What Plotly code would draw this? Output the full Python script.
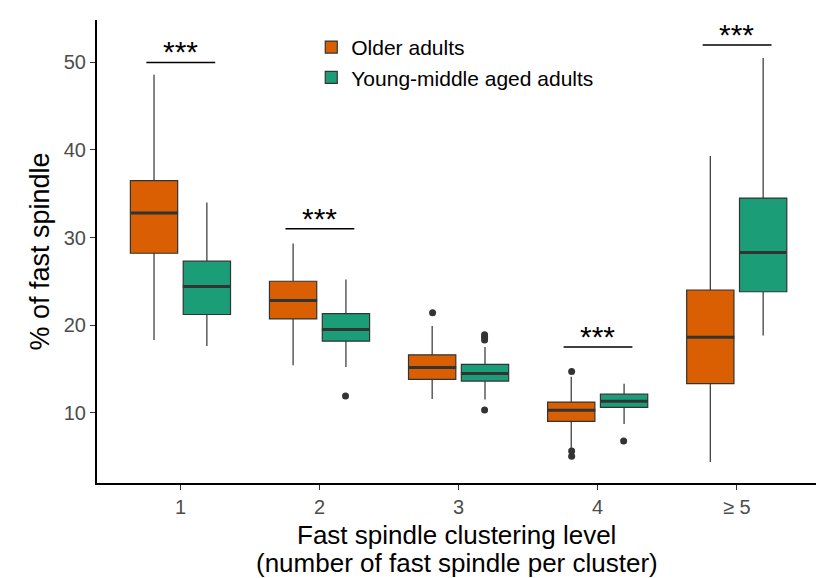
import plotly.graph_objects as go

categories = ["1", "2", "3", "4", "\u2265 5"]
cat_pos = [1, 2, 3, 4, 5]
groups = ["Older adults", "Young-middle aged adults"]
colors = ["#D95F02", "#1B9E77"]
x_title_lines = ["Fast spindle clustering level", "(number of fast spindle per cluster)"]

# Box statistics (lower whisker, Q1, median, Q3, upper whisker)
older_low = [18.3, 15.4, 11.55, 5.9, 4.35]
older_q1 = [28.2, 20.7, 13.8, 9.0, 13.3]
older_med = [32.8, 22.8, 15.15, 10.26, 18.6]
older_q3 = [36.5, 25.0, 16.6, 11.2, 24.0]
older_high = [48.6, 29.3, 19.9, 14.1, 39.3]

young_low = [17.6, 15.2, 11.5, 8.7, 18.8]
young_q1 = [21.2, 18.15, 13.6, 10.6, 23.8]
young_med = [24.4, 19.5, 14.45, 11.3, 28.3]
young_q3 = [27.3, 21.3, 15.5, 12.1, 34.5]
young_high = [34.0, 25.2, 17.5, 13.3, 50.5]

# Outliers (category index, value)
older_out_cat = [3, 4, 4, 4]
older_out_val = [21.4, 14.7, 5.6, 5.0]
young_out_cat = [2, 3, 3, 3, 3, 4]
young_out_val = [11.9, 18.9, 18.6, 18.3, 10.3, 6.75]

# Significance annotations
sig_cat = [1, 2, 4, 5]
sig_y = [50.0, 31.0, 17.5, 52.0]
sig_label = ["***", "***", "***", "***"]

dodge = 0.187
box_half = 0.17
edge = "#333333"

fig = go.Figure()

stats = [
    (older_low, older_q1, older_med, older_q3, older_high),
    (young_low, young_q1, young_med, young_q3, young_high),
]
for i, (lo, q1, md, q3, hi) in enumerate(stats):
    fig.add_trace(go.Box(
        name=groups[i], x=cat_pos, lowerfence=lo, q1=q1, median=md, q3=q3,
        upperfence=hi, fillcolor=colors[i], line=dict(color=edge, width=1.2),
        whiskerwidth=0, offsetgroup=str(i), boxpoints=False, opacity=1,
        hoverinfo="skip",
    ))

# thicker medians
for i, st in enumerate(stats):
    off = -dodge if i == 0 else dodge
    xs, ys = [], []
    for c, m in zip(cat_pos, st[2]):
        xs += [c + off - box_half, c + off + box_half, None]
        ys += [m, m, None]
    fig.add_trace(go.Scatter(x=xs, y=ys, mode="lines", line=dict(color=edge, width=3),
                             showlegend=False, hoverinfo="skip"))

# outliers
fig.add_trace(go.Scatter(x=[c - dodge for c in older_out_cat], y=older_out_val, mode="markers",
                         marker=dict(color=edge, size=7), showlegend=False, hoverinfo="skip"))
fig.add_trace(go.Scatter(x=[c + dodge for c in young_out_cat], y=young_out_val, mode="markers",
                         marker=dict(color=edge, size=7), showlegend=False, hoverinfo="skip"))

# significance bars
for c, yv, lab in zip(sig_cat, sig_y, sig_label):
    fig.add_shape(type="line", x0=c - 0.245, x1=c + 0.25, y0=yv, y1=yv,
                  line=dict(color="black", width=1.5))
    fig.add_annotation(x=c, y=yv, text=lab, showarrow=False, yanchor="bottom", yshift=-8,
                       font=dict(size=30, color="black"))

# x-axis title (two lines)
plot_h = 578 - 20 - 95
for k, (line, ypix) in enumerate(zip(x_title_lines, [535, 563])):
    fig.add_annotation(x=0.5, xref="paper", y=-(ypix - 483) / plot_h, yref="paper",
                       text=line, showarrow=False, xanchor="center", yanchor="middle",
                       font=dict(size=26, color="black"))

fig.update_layout(
    width=816, height=578,
    margin=dict(l=97, r=0, t=20, b=95),
    plot_bgcolor="white", paper_bgcolor="white",
    font=dict(family="Liberation Sans, Arial, sans-serif"),
    boxmode="group", boxgap=0.24, boxgroupgap=0.105,
    showlegend=True,
    legend=dict(x=0.298, y=0.985, xanchor="left", yanchor="top", bgcolor="rgba(0,0,0,0)",
                font=dict(size=21, color="black"), tracegroupgap=0, itemwidth=30),
)
fig.update_xaxes(
    range=[0.4, 5.57], tickvals=cat_pos, ticktext=categories,
    showline=True, linecolor="black", linewidth=2, ticks="outside", ticklen=5,
    tickcolor="#333333", tickfont=dict(size=20, color="#4D4D4D"),
    showgrid=False, zeroline=False,
)
fig.update_yaxes(
    range=[1.95, 54.85], tickvals=[10, 20, 30, 40, 50],
    showline=True, linecolor="black", linewidth=2, ticks="outside", ticklen=5,
    tickcolor="#333333", tickfont=dict(size=20, color="#4D4D4D"),
    showgrid=False, zeroline=False,
    title=dict(text="% of fast spindle", font=dict(size=27, color="black"), standoff=6),
)

fig.write_html("out.html", post_script="document.body.style.margin='0';",
               config={"displayModeBar": False})
